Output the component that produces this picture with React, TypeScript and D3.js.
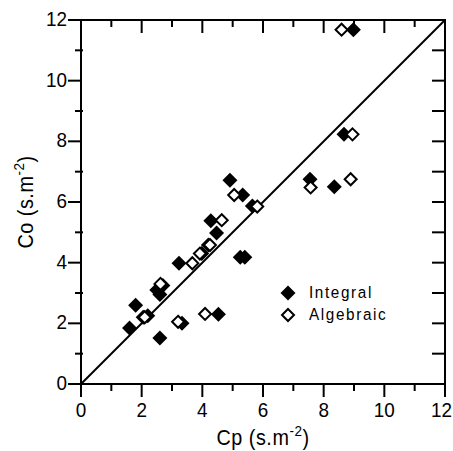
import React from 'react';
import * as d3 from 'd3';

// Integral (filled diamonds): [Cp, Co]
const integralCp = [1.6, 1.8, 2.05, 2.2, 2.6, 2.5, 2.6, 2.7, 3.23, 3.33, 3.98, 4.2, 4.47, 4.28, 4.53, 4.91, 5.33, 5.25, 5.4, 5.65, 7.55, 8.35, 8.67, 8.98];
const integralCo = [1.85, 2.6, 2.2, 2.25, 1.52, 3.1, 2.95, 3.25, 3.98, 2.0, 4.3, 4.58, 4.98, 5.38, 2.3, 6.72, 6.23, 4.18, 4.18, 5.87, 6.75, 6.5, 8.23, 11.68];

// Algebraic (open diamonds)
const algebraicCp = [2.1, 2.62, 3.2, 3.67, 3.92, 4.25, 4.09, 4.64, 5.05, 5.81, 7.57, 8.89, 8.95, 8.59];
const algebraicCo = [2.2, 3.3, 2.05, 3.98, 4.3, 4.58, 2.31, 5.4, 6.23, 5.85, 6.48, 6.75, 8.23, 11.68];

const majorTicks = [0, 2, 4, 6, 8, 10, 12];
const minorTicks = [1, 3, 5, 7, 9, 11];

const W = 453, H = 451;
const left = 81, right = 445, top = 20, bottom = 384;
const font = 'Liberation Sans, Arial, sans-serif';
const sx = 0.9; // narrow the type a bit, like the original

const diamond = (cx: number, cy: number, r: number) =>
  `M${cx},${cy - r}L${cx + r},${cy}L${cx},${cy + r}L${cx - r},${cy}Z`;

function Label(props: { x: number; y: number; anchor?: string; size?: number; spacing?: number; children: React.ReactNode }) {
  return (
    <text transform={`translate(${props.x},${props.y}) scale(${sx},1)`} textAnchor={props.anchor || 'start'}
      fontFamily={font} fontSize={props.size || 21} letterSpacing={props.spacing || 0}>
      {props.children}
    </text>
  );
}

export default function App() {
  const x = d3.scaleLinear().domain([0, 12]).range([left, right]);
  const y = d3.scaleLinear().domain([0, 12]).range([bottom, top]);

  return (
    <svg width={W} height={H} style={{ position: 'absolute', left: 0, top: 0, background: '#fff' }}>
      {/* axes box */}
      <rect x={left} y={top} width={right - left} height={bottom - top} fill="none" stroke="#000" strokeWidth={2} />

      {/* diagonal */}
      <line x1={x(0)} y1={y(0)} x2={x(12)} y2={y(12)} stroke="#000" strokeWidth={2} />

      {/* bottom / top ticks */}
      {majorTicks.map(t => (
        <g key={'b' + t}>
          <line x1={x(t)} x2={x(t)} y1={bottom} y2={bottom + 13} stroke="#000" strokeWidth={2} />
          {t === 12
            ? <Label x={W - 1} y={bottom + 33} anchor="end">{t}</Label>
            : <Label x={x(t)} y={bottom + 33} anchor="middle">{t}</Label>}
          {t > 0 && t < 12 && <line x1={x(t)} x2={x(t)} y1={top} y2={top + 13} stroke="#000" strokeWidth={2} />}
        </g>
      ))}
      {minorTicks.map(t => (
        <g key={'bm' + t}>
          <line x1={x(t)} x2={x(t)} y1={bottom} y2={bottom + 7} stroke="#000" strokeWidth={2} />
          <line x1={x(t)} x2={x(t)} y1={top} y2={top + 7} stroke="#000" strokeWidth={2} />
        </g>
      ))}

      {/* left / right ticks */}
      {majorTicks.map(t => (
        <g key={'l' + t}>
          <line x1={left - 13} x2={left} y1={y(t)} y2={y(t)} stroke="#000" strokeWidth={2} />
          <Label x={left - 14} y={y(t) + 6} anchor="end">{t}</Label>
          {t > 0 && t < 12 && <line x1={right - 13} x2={right} y1={y(t)} y2={y(t)} stroke="#000" strokeWidth={2} />}
        </g>
      ))}
      {minorTicks.map(t => (
        <g key={'lm' + t}>
          <line x1={left - 6} x2={left + 2} y1={y(t)} y2={y(t)} stroke="#000" strokeWidth={2} />
          <line x1={right - 13} x2={right} y1={y(t)} y2={y(t)} stroke="#000" strokeWidth={2} />
        </g>
      ))}

      {/* data */}
      {integralCp.map((v, i) => (
        <path key={'i' + i} d={diamond(x(v), y(integralCo[i]), 7.5)} fill="#000" />
      ))}
      {algebraicCp.map((v, i) => (
        <path key={'a' + i} d={diamond(x(v), y(algebraicCo[i]), 6)} fill="#fff" stroke="#000" strokeWidth={2} />
      ))}

      {/* legend */}
      <path d={diamond(288, 293, 7.5)} fill="#000" />
      <Label x={309} y={298} size={17} spacing={1.8}>Integral</Label>
      <path d={diamond(288, 315, 6)} fill="#fff" stroke="#000" strokeWidth={2} />
      <Label x={309} y={320} size={17} spacing={1.8}>Algebraic</Label>

      {/* axis titles */}
      <Label x={(left + right) / 2} y={445} anchor="middle" size={22} spacing={0.6}>
        Cp (s.m<tspan dy={-9} fontSize={15}>-2</tspan><tspan dy={9}>)</tspan>
      </Label>
      <g transform={`translate(33,${(top + bottom) / 2}) rotate(-90)`}>
        <Label x={0} y={0} anchor="middle" size={22} spacing={0.6}>
          Co (s.m<tspan dy={-9} fontSize={15}>-2</tspan><tspan dy={9}>)</tspan>
        </Label>
      </g>
    </svg>
  );
}
